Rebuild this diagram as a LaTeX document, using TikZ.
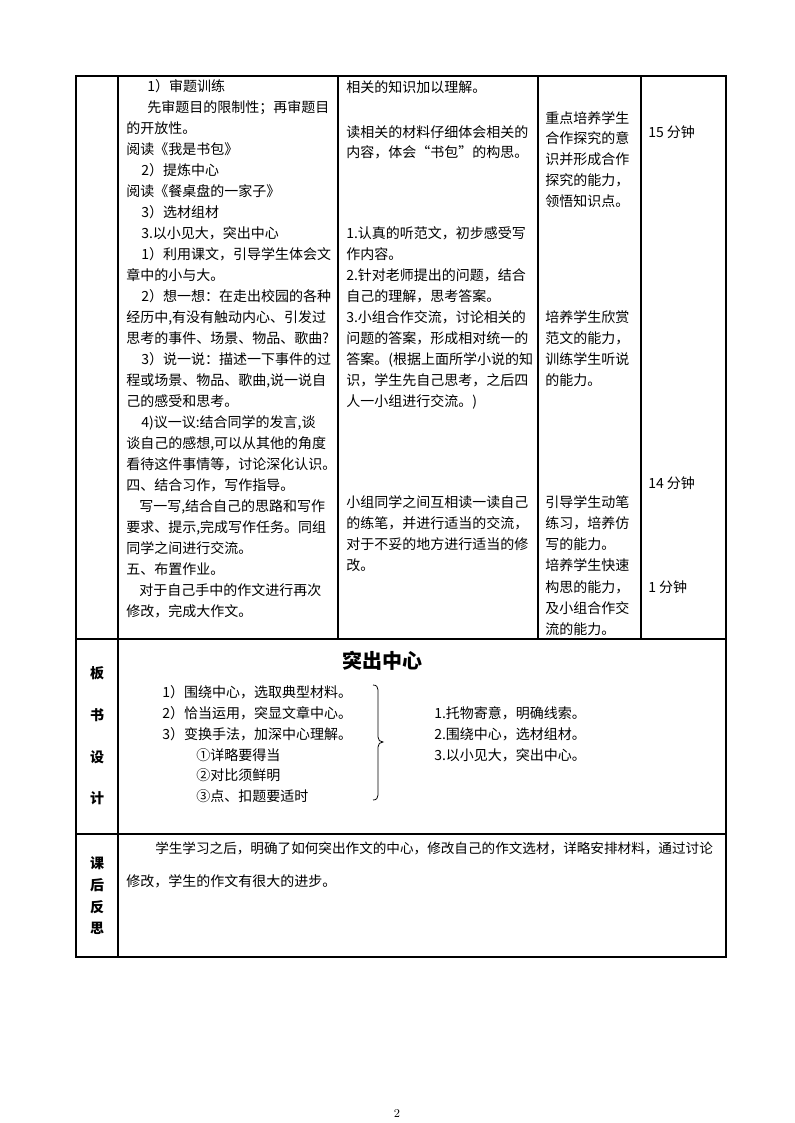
\documentclass[tikz,border=0pt]{standalone}
\usepackage{fontspec}
\newfontfamily\cjk{Noto Sans CJK SC}
\tikzset{
  txt/.style={anchor=base west, inner sep=0pt, yshift=-3.8pt, font=\cjk\fontsize{10.5}{12}\selectfont},
  lbl/.style={anchor=base, inner sep=0pt, yshift=-3.8pt, font=\cjk\fontsize{10.5}{12}\selectfont\bfseries},
  ttl/.style={anchor=base, inner sep=0pt, yshift=-5.4pt, font=\cjk\fontsize{15}{18}\selectfont\bfseries},
  gridline/.style={line width=0.9pt, black},
  bracepath/.style={line width=0.6pt, black},
}
\newcommand\putline[4]{\node[txt] (#1) at (#2,#3) {#4};}
\begin{document}
\begin{tikzpicture}[x=0.75pt,y=-0.75pt]
\useasboundingbox (0,0) rectangle (794,1123);
% table grid
\draw[gridline] (76,76) rectangle (726,957);
\draw[gridline] (76,639) -- (726,639);
\draw[gridline] (76,834) -- (726,834);
\draw[gridline] (118,76) -- (118,957);
\draw[gridline] (338,76) -- (338,639);
\draw[gridline] (538,76) -- (538,639);
\draw[gridline] (641,76) -- (641,639);

% column 2
\putline{a1}{147}{86}{1）审题训练}
\putline{a2}{147}{107}{先审题目的限制性；再审题目}
\putline{a3}{126}{128}{的开放性。}
\putline{a4}{126}{149}{阅读《我是书包》}
\putline{a5}{141}{170}{2）提炼中心}
\putline{a6}{126}{191}{阅读《餐桌盘的一家子》}
\putline{a7}{141}{212}{3）选材组材}
\putline{a8}{141}{233}{3.以小见大，突出中心}
\putline{a9}{141}{254}{1）利用课文，引导学生体会文}
\putline{a10}{126}{275}{章中的小与大。}
\putline{a11}{141}{296}{2）想一想：在走出校园的各种}
\putline{a12}{126}{317}{经历中,有没有触动内心、引发过}
\putline{a13}{126}{338}{思考的事件、场景、物品、歌曲?}
\putline{a14}{141}{359}{3）说一说：描述一下事件的过}
\putline{a15}{126}{380}{程或场景、物品、歌曲,说一说自}
\putline{a16}{126}{401}{己的感受和思考。}
\putline{a17}{141}{422}{4)议一议:结合同学的发言,谈}
\putline{a18}{126}{443}{谈自己的感想,可以从其他的角度}
\putline{a19}{126}{464}{看待这件事情等，讨论深化认识。}
\putline{a20}{126}{485}{四、结合习作，写作指导。}
\putline{a21}{139}{506}{写一写,结合自己的思路和写作}
\putline{a22}{126}{527}{要求、提示,完成写作任务。同组}
\putline{a23}{126}{548}{同学之间进行交流。}
\putline{a24}{126}{569}{五、布置作业。}
\putline{a25}{139}{590}{对于自己手中的作文进行再次}
\putline{a26}{126}{611}{修改，完成大作文。}

% column 3
\putline{b1}{346}{87}{相关的知识加以理解。}
\putline{b2}{346}{132}{读相关的材料仔细体会相关的}
\putline{b3}{346}{152}{内容，体会“书包”的构思。}
\putline{b4}{346}{233}{1.认真的听范文，初步感受写}
\putline{b5}{346}{254}{作内容。}
\putline{b6}{346}{275}{2.针对老师提出的问题，结合}
\putline{b7}{346}{296}{自己的理解，思考答案。}
\putline{b8}{346}{317}{3.小组合作交流，讨论相关的}
\putline{b9}{346}{338}{问题的答案，形成相对统一的}
\putline{b10}{346}{359}{答案。(根据上面所学小说的知}
\putline{b11}{346}{380}{识，学生先自己思考，之后四}
\putline{b12}{346}{401}{人一小组进行交流。)}
\putline{b13}{346}{502}{小组同学之间互相读一读自己}
\putline{b14}{346}{523}{的练笔，并进行适当的交流，}
\putline{b15}{346}{544}{对于不妥的地方进行适当的修}
\putline{b16}{346}{565}{改。}

% column 4
\putline{c1}{545}{118}{重点培养学生}
\putline{c2}{545}{138}{合作探究的意}
\putline{c3}{545}{159}{识并形成合作}
\putline{c4}{545}{180}{探究的能力，}
\putline{c5}{545}{201}{领悟知识点。}
\putline{c6}{545}{317}{培养学生欣赏}
\putline{c7}{545}{338}{范文的能力，}
\putline{c8}{545}{359}{训练学生听说}
\putline{c9}{545}{380}{的能力。}
\putline{c10}{545}{502}{引导学生动笔}
\putline{c11}{545}{523}{练习，培养仿}
\putline{c12}{545}{544}{写的能力。}
\putline{c13}{545}{565}{培养学生快速}
\putline{c14}{545}{587}{构思的能力，}
\putline{c15}{545}{608}{及小组合作交}
\putline{c16}{545}{629}{流的能力。}

% column 5
\putline{d1}{648}{132}{15 分钟}
\putline{d2}{648}{483}{14 分钟}
\putline{d3}{648}{587}{1 分钟}

% row 2 labels
\node[lbl] (r2a) at (97,673) {板};
\node[lbl] (r2b) at (97,715) {书};
\node[lbl] (r2c) at (97,757) {设};
\node[lbl] (r2d) at (97,798) {计};

% board design
\node[ttl] (title) at (382,661) {突出中心};
\putline{e1}{162}{692}{1）围绕中心，选取典型材料。}
\putline{e2}{162}{713}{2）恰当运用，突显文章中心。}
\putline{e3}{162}{734}{3）变换手法，加深中心理解。}
\putline{e4}{196}{755}{①详略要得当}
\putline{e5}{196}{775}{②对比须鲜明}
\putline{e6}{196}{796}{③点、扣题要适时}
\draw[bracepath] (373,685) .. controls (376.5,685) and (378,687) .. (378,690) -- (378,737)
  .. controls (378,740) and (380,742) .. (383,742)
  .. controls (380,742) and (378,744) .. (378,747) -- (378,795)
  .. controls (378,798) and (376.5,800) .. (373,800);
\putline{f1}{434}{713}{1.托物寄意，明确线索。}
\putline{f2}{434}{734}{2.围绕中心，选材组材。}
\putline{f3}{434}{755}{3.以小见大，突出中心。}

% row 3
\node[lbl] (r3a) at (97,863) {课};
\node[lbl] (r3b) at (97,885) {后};
\node[lbl] (r3c) at (97,907) {反};
\node[lbl] (r3d) at (97,928) {思};
\node[txt, font=\cjk\fontsize{10.2}{12}\selectfont] (g1) at (155,848) {学生学习之后，明确了如何突出作文的中心，修改自己的作文选材，详略安排材料，通过讨论};
\putline{g2}{126}{881}{修改，学生的作文有很大的进步。}

% page number
\node[inner sep=0pt, font=\fontsize{9}{10}\selectfont] (pg) at (397,1113) {2};
\end{tikzpicture}
\end{document}
